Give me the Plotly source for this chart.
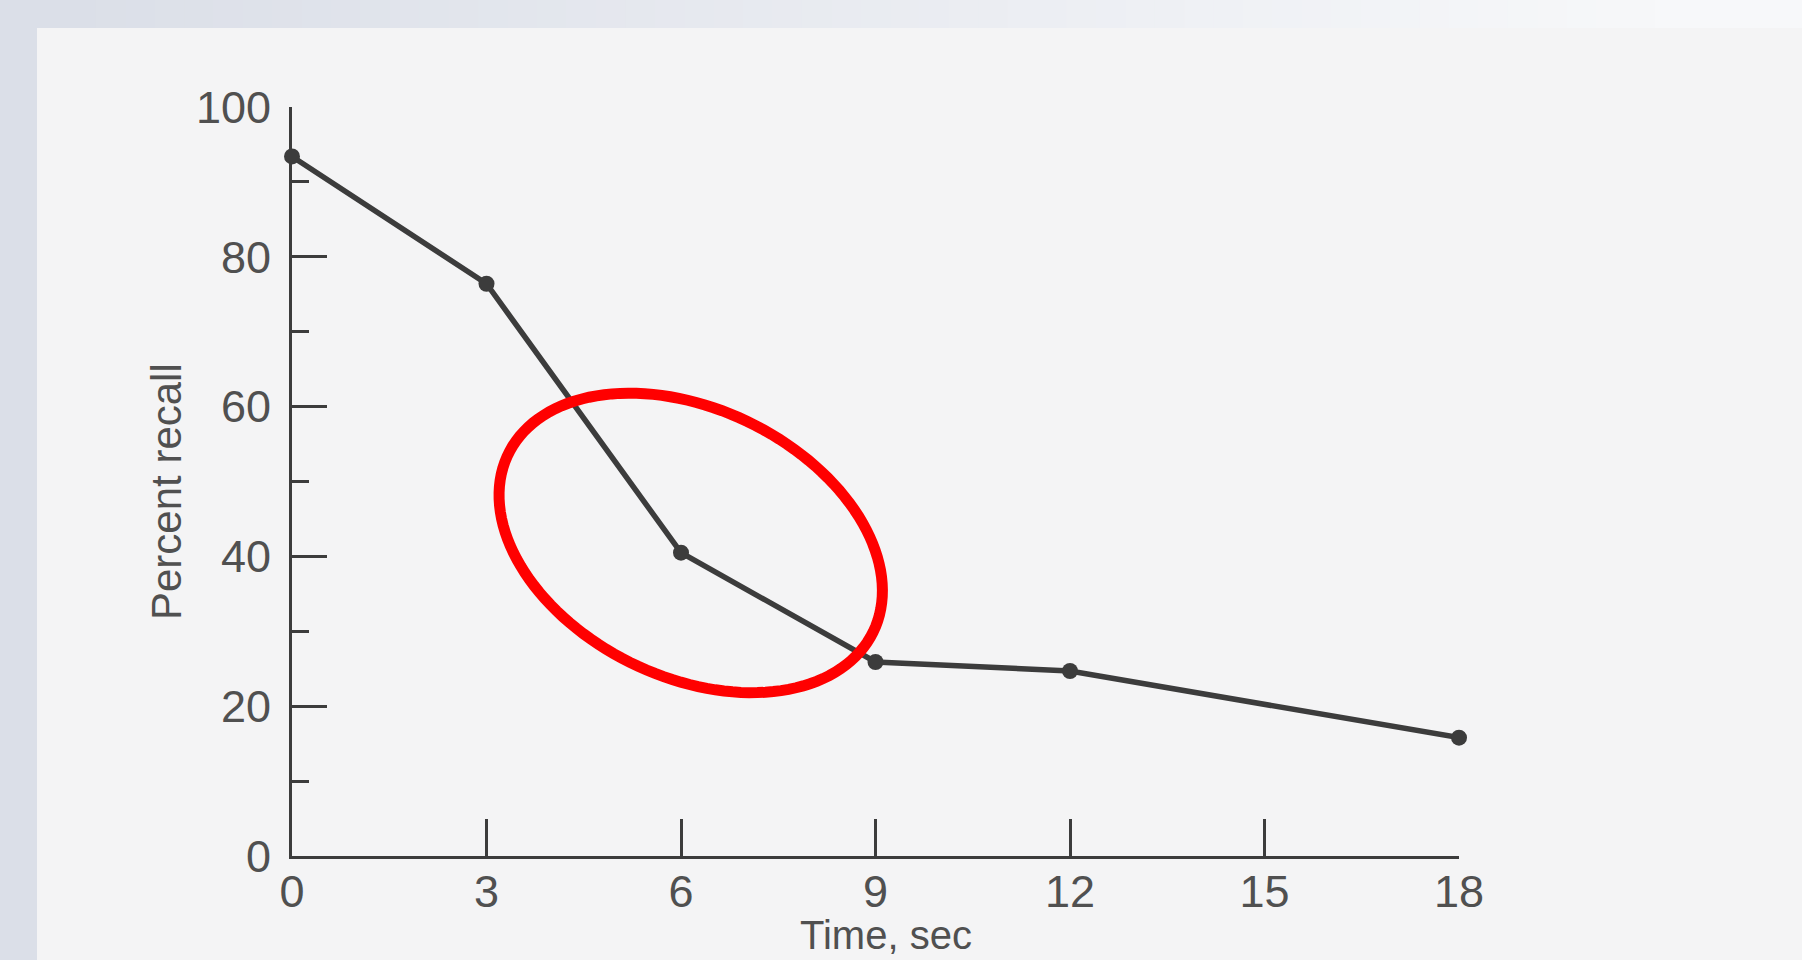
import numpy as np
import plotly.graph_objects as go

# ---------------- data ----------------
time_sec = [0, 3, 6, 9, 12, 18]
percent_recall = [93.4, 76.4, 40.5, 25.9, 24.7, 15.8]
x_tick_vals = [0, 3, 6, 9, 12, 15, 18]
y_tick_vals = [0, 20, 40, 60, 80, 100]
x_title = "Time, sec"
y_title = "Percent recall"

# ---------------- layout geometry ----------------
FIG_W, FIG_H = 1802, 960
L, R, T, B = 292, 343, 107, 104
PW = FIG_W - L - R
PH = FIG_H - T - B
X_RANGE = [0, 18]
Y_RANGE = [0, 100]
PX_PER_X = PW / (X_RANGE[1] - X_RANGE[0])
PX_PER_Y = PH / (Y_RANGE[1] - Y_RANGE[0])

INK = "#3c3c3c"
LABEL = "#505050"
PAGE = "#dbdfe8"
PAPER = "#f4f4f5"
FONT = "Liberation Sans, Arial, sans-serif"


def px2paper(px, py):
    return (px - L) / PW, (FIG_H - B - py) / PH


fig = go.Figure()

fig.add_trace(go.Scatter(
    x=time_sec, y=percent_recall,
    mode="lines+markers",
    line=dict(color=INK, width=5.5),
    marker=dict(size=16, color=INK),
    cliponaxis=False,
    showlegend=False,
))

shapes = []
# scanned paper area
x0, y0 = px2paper(37, 28)
x1, y1 = px2paper(FIG_W + 2, FIG_H + 2)
shapes.append(dict(type="rect", xref="paper", yref="paper", x0=x0, y0=y1, x1=x1, y1=y0,
                   fillcolor=PAPER, line=dict(width=0), layer="below"))
# top band gradient (page colour fading to near white towards the right)
c0 = np.array([0xdb, 0xdf, 0xe8])
c1 = np.array([0xf7, 0xf8, 0xfa])
n = 60
for i in range(n):
    fx0 = 37 + (FIG_W - 37) * i / n
    fx1 = 37 + (FIG_W - 37) * (i + 1) / n
    f = min(1.0, (i + 0.5) / n * 1.1)
    c = (c0 + (c1 - c0) * f).astype(int)
    ax0, ay0 = px2paper(fx0, -2)
    ax1, ay1 = px2paper(fx1 + 1, 28)
    shapes.append(dict(type="rect", xref="paper", yref="paper", x0=ax0, y0=ay1, x1=ax1, y1=ay0,
                       fillcolor="rgb(%d,%d,%d)" % tuple(c), line=dict(width=0), layer="below"))

# red highlight ellipse (annotation around the 6 s point), built in pixel space
ecx, ecy = 6.15, 41.8          # centre in data units
ea, eb, eang = 203, 134, np.deg2rad(26)   # semi-axes (px) and rotation
tt = np.linspace(0, 2 * np.pi, 140)
dx = ea * np.cos(eang) * np.cos(tt) - eb * np.sin(eang) * np.sin(tt)
dy = ea * np.sin(eang) * np.cos(tt) + eb * np.cos(eang) * np.sin(tt)
ex = ecx + dx / PX_PER_X
ey = ecy - dy / PX_PER_Y
path = "M " + " L ".join("%.4f,%.4f" % (a, b) for a, b in zip(ex, ey)) + " Z"
shapes.append(dict(type="path", xref="x", yref="y", path=path,
                   line=dict(color="#ff0000", width=11), layer="above"))

# axis titles as positioned text
xt_x, xt_y = px2paper(886, 959)
yt_x, yt_y = px2paper(167, 492)
annotations = [
    dict(text=x_title, xref="paper", yref="paper", x=xt_x, y=xt_y,
         xanchor="center", yanchor="bottom", showarrow=False,
         font=dict(size=40, color=LABEL, family=FONT)),
    dict(text=y_title, xref="paper", yref="paper", x=yt_x, y=yt_y,
         xanchor="center", yanchor="middle", showarrow=False, textangle=-90,
         font=dict(size=42, color=LABEL, family=FONT)),
]

fig.update_layout(
    width=FIG_W, height=FIG_H,
    margin=dict(l=L, r=R, t=T, b=B, pad=0),
    paper_bgcolor=PAGE,
    plot_bgcolor="rgba(0,0,0,0)",
    font=dict(family=FONT, color=LABEL),
    shapes=shapes,
    annotations=annotations,
    showlegend=False,
)

fig.update_xaxes(
    range=X_RANGE, tickvals=x_tick_vals, ticktext=[str(v) for v in x_tick_vals],
    ticks="inside", ticklen=37, tickwidth=2.5, tickcolor=INK,
    showline=True, linecolor=INK, linewidth=3,
    showgrid=False, zeroline=False, automargin=False,
    tickfont=dict(size=45, color=LABEL, family=FONT),
    ticklabelstandoff=-6,
)
fig.update_yaxes(
    range=Y_RANGE, tickvals=y_tick_vals, ticktext=[str(v) for v in y_tick_vals],
    ticks="inside", ticklen=35, tickwidth=2.5, tickcolor=INK,
    minor=dict(dtick=10, tick0=0, ticks="inside", ticklen=17, tickwidth=2.5, tickcolor=INK),
    showline=True, linecolor=INK, linewidth=3,
    showgrid=False, zeroline=False, automargin=False,
    tickfont=dict(size=45, color=LABEL, family=FONT),
    ticklabelstandoff=9,
)

fig.write_html(
    "out.html",
    config={"displayModeBar": False},
    post_script="document.body.style.margin='0px';document.body.style.overflow='hidden';",
)
